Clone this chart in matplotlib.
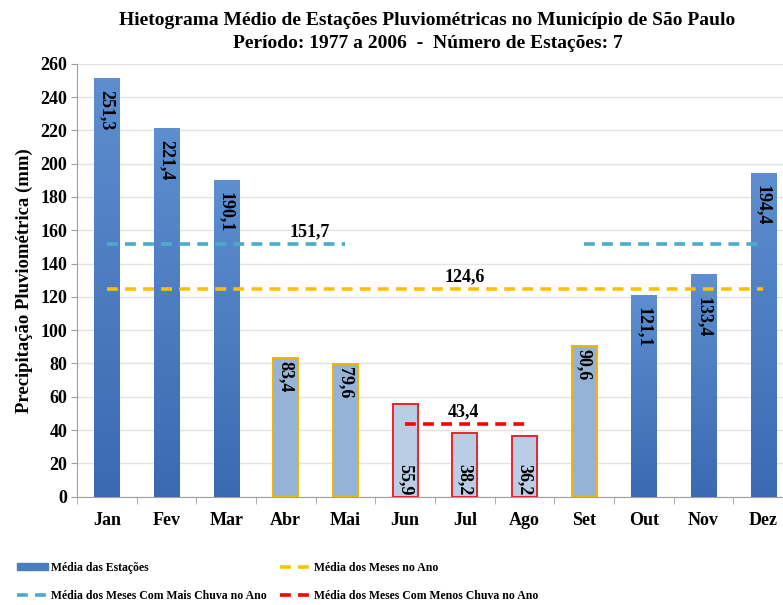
import matplotlib
matplotlib.use("Agg")
import matplotlib.pyplot as plt
import numpy as np
from matplotlib.lines import Line2D
from matplotlib.patches import Patch
from matplotlib.colors import LinearSegmentedColormap
from matplotlib import transforms

months = ["Jan", "Fev", "Mar", "Abr", "Mai", "Jun", "Jul", "Ago", "Set", "Out", "Nov", "Dez"]
values = [251.3, 221.4, 190.1, 83.4, 79.6, 55.9, 38.2, 36.2, 90.6, 121.1, 133.4, 194.4]
labels = ["251,3", "221,4", "190,1", "83,4", "79,6", "55,9", "38,2", "36,2", "90,6", "121,1", "133,4", "194,4"]
groups = ["alto", "alto", "alto", "medio", "medio", "baixo", "baixo", "baixo", "medio", "alto", "alto", "alto"]

media_ano = 124.6
media_mais = 151.7
media_menos = 43.4
mais_seg1 = ("Jan", "Mai")
mais_seg2 = ("Set", "Dez")
ano_seg = ("Jan", "Dez")
menos_seg = ("Jun", "Ago")

legend_labels = ["Média das Estações", "Média dos Meses no Ano",
                 "Média dos Meses Com Mais Chuva no Ano", "Média dos Meses Com Menos Chuva no Ano"]

plt.rcParams['font.family'] = ['Liberation Serif', 'DejaVu Serif']
plt.rcParams['font.weight'] = 'bold'

fig = plt.figure(figsize=(7.83, 6.05), dpi=100)
ax = fig.add_axes([0.0983, 0.179, 1.0128 - 0.0983, 0.8947 - 0.179])

x = np.arange(len(months))
w = 0.42
style = {
    "alto": dict(face="#4A7CC0", edge="#4A7CC0"),
    "medio": dict(face="#95B3D7", edge="#F2B400"),
    "baixo": dict(face="#B9CDE5", edge="#E8242B"),
}
grad = np.linspace(0, 1, 100).reshape(-1, 1)
cmap = LinearSegmentedColormap.from_list("g", ["#3A6AB2", "#5D8ECF"])

for xi, v, g in zip(x, values, groups):
    st = style[g]
    ax.bar(xi, v, width=w, color=st["face"], edgecolor=st["edge"],
           linewidth=1.4 if g != "alto" else 0, zorder=3)
    if g == "alto":
        ax.imshow(grad, extent=(xi - w / 2, xi + w / 2, 0, v), origin="lower",
                  cmap=cmap, aspect="auto", zorder=3.5)

# label offsets from bar top in pixels (style only)
top_pad = {"alto": 12, "medio": 3}
extra_pad = {"Nov": 22}
for m, xi, v, g, lab in zip(months, x, values, groups, labels):
    if g == "baixo":
        ax.text(xi, 0.6, lab, rotation=-90, ha="center", va="bottom",
                fontsize=13, fontweight="bold", color="black", zorder=6)
    else:
        pad = extra_pad.get(m, top_pad[g])
        tr = ax.transData + transforms.ScaledTranslation(0, -pad / 100.0, fig.dpi_scale_trans)
        ax.text(xi, v, lab, rotation=-90, ha="center", va="top", transform=tr,
                fontsize=13, fontweight="bold", color="black", zorder=6)

idx = {m: i for i, m in enumerate(months)}

def seg(a, b, y, color):
    ax.plot([idx[a], idx[b]], [y, y], color=color, linestyle=(0, (3, 2)), linewidth=2.6,
            zorder=5, dash_capstyle="butt")

seg(*ano_seg, media_ano, "#FFC000")
seg(*mais_seg1, media_mais, "#4BACC6")
seg(*mais_seg2, media_mais, "#4BACC6")
seg(*menos_seg, media_menos, "#FF0000")

ax.text(3.4, media_mais + 2.5, "151,7", ha="center", va="bottom", fontsize=13, fontweight="bold", zorder=6)
ax.text(6.0, media_ano + 2.5, "124,6", ha="center", va="bottom", fontsize=13, fontweight="bold", zorder=6)
ax.text(5.97, media_menos + 2.5, "43,4", ha="center", va="bottom", fontsize=13, fontweight="bold", zorder=6)

ax.set_xlim(-0.5, 11.5)
ax.set_ylim(0, 260)
ax.set_yticks(np.arange(0, 261, 20))
ax.set_xticks(x)
ax.set_xticklabels(months, fontsize=13, fontweight="bold")
ax.set_xticks(np.arange(-0.5, 12, 1), minor=True)
ax.tick_params(axis="x", which="major", length=0, pad=11)
ax.tick_params(axis="x", which="minor", length=5, color="#A0A0A0")
ax.tick_params(axis="y", length=4, color="#A0A0A0", labelsize=13, pad=3)
for t in ax.get_yticklabels():
    t.set_fontweight("bold")
ax.grid(axis="y", color="#E3E3E3", linewidth=1, zorder=0)
ax.set_axisbelow(True)
for s in ["top", "right"]:
    ax.spines[s].set_visible(False)
ax.spines["left"].set_color("#A0A0A0")
ax.spines["bottom"].set_color("#A0A0A0")
ax.set_ylabel("Precipitação Pluviométrica (mm)", fontsize=13.5, fontweight="bold", labelpad=5)

fig.text(0.546, 0.966, "Hietograma Médio de Estações Pluviométricas no Município de São Paulo",
         ha="center", va="center", fontsize=14, fontweight="bold")
fig.text(0.546, 0.928, "Período: 1977 a 2006  -  Número de Estações: 7",
         ha="center", va="center", fontsize=14, fontweight="bold")

dash = (0, (3, 2))
h_bar = Patch(facecolor="#4A7CC0", edgecolor="#4A7CC0")
h_mais = Line2D([0], [0], color="#4BACC6", linestyle=dash, linewidth=2.6)
h_ano = Line2D([0], [0], color="#FFC000", linestyle=dash, linewidth=2.6)
h_menos = Line2D([0], [0], color="#FF0000", linestyle=dash, linewidth=2.6)

leg_kw = dict(frameon=False, handlelength=2.6, handleheight=0.55, handletextpad=0.25,
              labelspacing=1.4, borderaxespad=0, borderpad=0,
              prop={"weight": "bold", "size": 8.5})
leg1 = fig.legend([h_bar, h_mais], [legend_labels[0], legend_labels[2]], loc="center left",
                  bbox_to_anchor=(17 / 783, 1 - 582 / 605), **leg_kw)
leg2 = fig.legend([h_ano, h_menos], [legend_labels[1], legend_labels[3]], loc="center left",
                  bbox_to_anchor=(280 / 783, 1 - 582 / 605), **leg_kw)

fig.savefig("out.png", dpi=100)
